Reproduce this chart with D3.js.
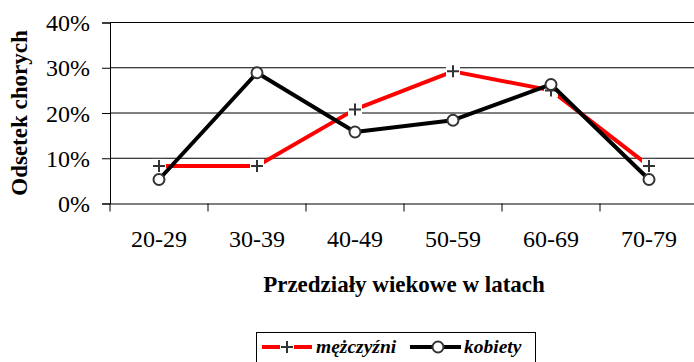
<!DOCTYPE html>
<html>
<head>
<meta charset="utf-8">
<script src="https://cdn.jsdelivr.net/npm/d3@7/dist/d3.min.js"></script>
<style>
  html, body { margin: 0; padding: 0; background: #fff; }
  svg { display: block; }
  svg text { font-family: "Liberation Serif", "Times New Roman", serif !important; }
</style>
</head>
<body>
<svg id="chart" width="694" height="362"></svg>
<script>
// Age groups and the share of patients in each (fractions)
const categories = ["20-29", "30-39", "40-49", "50-59", "60-69", "70-79"];
const men = [0.083, 0.083, 0.208, 0.292, 0.25, 0.083];
const women = [0.053, 0.289, 0.158, 0.184, 0.263, 0.053];
const yTicks = [0, 0.1, 0.2, 0.3, 0.4];
const seriesNames = ["mężczyźni", "kobiety"];

const svg = d3.select("#chart");

const x = d3.scaleBand().domain(categories).range([110, 698]).padding(0);
const y = d3.scaleLinear().domain([0, 0.4]).range([203.5, 22.5]);
const cx = d => x(d) + x.bandwidth() / 2;

// horizontal gridlines
svg.append("g")
  .selectAll("line")
  .data(yTicks.filter(t => t > 0))
  .join("line")
  .attr("x1", 110).attr("x2", 698)
  .attr("y1", d => y(d)).attr("y2", d => y(d))
  .attr("stroke", "#000").attr("stroke-width", 1);

// y axis
const yAxis = d3.axisLeft(y).tickValues(yTicks).tickSize(8).tickPadding(12)
  .tickFormat(d3.format(".0%"));
const gy = svg.append("g").attr("transform", "translate(110,0)").call(yAxis);
gy.select(".domain").attr("stroke", "#000");
gy.selectAll(".tick line").attr("stroke", "#000");
gy.selectAll(".tick text")
  .style("font-size", "24px")
  .attr("fill", "#000").attr("dy", "0.34em");

// x axis
const xAxis = d3.axisBottom(x).tickSize(0).tickPadding(26);
const gx = svg.append("g").attr("transform", `translate(0,${y(0)})`).call(xAxis);
gx.select(".domain").attr("stroke", "#000");
gx.selectAll(".tick text")
  .style("font-size", "24px")
  .attr("fill", "#000");
// category separators
gx.append("g").selectAll("line")
  .data(categories.map(c => x(c)).concat([x.range()[1]]))
  .join("line")
  .attr("x1", d => d).attr("x2", d => d)
  .attr("y1", 0).attr("y2", 8)
  .attr("stroke", "#000");

// axis titles
svg.append("text")
  .attr("transform", "translate(27,113) rotate(-90)")
  .attr("text-anchor", "middle")
  .style("font-size", "23px").style("font-weight", "bold")
  .text("Odsetek chorych");

svg.append("text")
  .attr("x", 404).attr("y", 292)
  .attr("text-anchor", "middle")
  .style("font-size", "23px").style("font-weight", "bold")
  .text("Przedziały wiekowe w latach");

const line = d3.line().x((d, i) => cx(categories[i])).y(d => y(d));

function plusMarker(g, px, py) {
  g.append("rect").attr("x", px - 7).attr("y", py - 7).attr("width", 14).attr("height", 14)
    .attr("fill", "#fff");
  g.append("path")
    .attr("d", `M${px - 6},${py}H${px + 6}M${px},${py - 6}V${py + 6}`)
    .attr("stroke", "#333").attr("stroke-width", 2).attr("fill", "none");
}
function circleMarker(g, px, py) {
  g.append("circle").attr("cx", px).attr("cy", py).attr("r", 5.5)
    .attr("fill", "#fff").attr("stroke", "#333").attr("stroke-width", 2);
}

// men series
svg.append("path").datum(men).attr("d", line)
  .attr("fill", "none").attr("stroke", "#ff0000").attr("stroke-width", 4)
  .attr("stroke-linejoin", "round");
const gm = svg.append("g");
men.forEach((v, i) => plusMarker(gm, cx(categories[i]), y(v)));

// women series
svg.append("path").datum(women).attr("d", line)
  .attr("fill", "none").attr("stroke", "#000").attr("stroke-width", 4)
  .attr("stroke-linejoin", "round");
const gw = svg.append("g");
women.forEach((v, i) => circleMarker(gw, cx(categories[i]), y(v)));

// legend
const lg = svg.append("g");
lg.append("rect").attr("x", 256.5).attr("y", 332.5).attr("width", 279).attr("height", 40)
  .attr("fill", "#fff").attr("stroke", "#000");
const ly = 347;
lg.append("line").attr("x1", 262).attr("x2", 312).attr("y1", ly).attr("y2", ly)
  .attr("stroke", "#ff0000").attr("stroke-width", 4);
plusMarker(lg, 287, ly);
lg.append("text").attr("x", 316).attr("y", ly + 6)
  .style("font-size", "19.5px").style("font-weight", "bold").style("font-style", "italic")
  .text(seriesNames[0]);
lg.append("line").attr("x1", 410).attr("x2", 461).attr("y1", ly).attr("y2", ly)
  .attr("stroke", "#000").attr("stroke-width", 4);
circleMarker(lg, 438, ly);
lg.append("text").attr("x", 464).attr("y", ly + 6)
  .style("font-size", "19.5px").style("font-weight", "bold").style("font-style", "italic")
  .text(seriesNames[1]);
</script>
</body>
</html>
